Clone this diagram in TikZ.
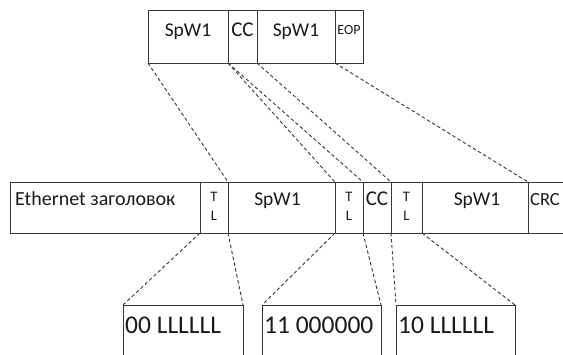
\documentclass[tikz,border=0pt]{standalone}
\usepackage{fontspec}
\setmainfont{Carlito}
\usetikzlibrary{positioning}
\usetikzlibrary{calc}
\definecolor{edge}{RGB}{55,55,55}
\definecolor{ink}{RGB}{25,25,25}

\begin{document}
\begin{tikzpicture}[x=1pt, y=-1pt, node distance=0pt,
field/.style={draw=edge, line width=0.9pt, inner sep=0pt, outer sep=0pt, minimum height=#1},
link/.style={edge, line width=0.9pt, dash pattern=on 3.5pt off 2.5pt},
txt/.style={ink, inner sep=0pt, anchor=base, font=\fontsize{#1}{#1}\selectfont},
txt/.default=19.5]
\useasboundingbox (0,0) rectangle (563,354);
\clip (0,0) rectangle (563,354);

% SpaceWire packet
\node [field=53pt, minimum width=80pt, anchor=north west] (t1) at (148,10) {};
\node [field=53pt, minimum width=29pt, right=of t1] (t2) {};
\node [field=53pt, minimum width=78pt, right=of t2] (t3) {};
\node [field=53pt, minimum width=28pt, right=of t3] (t4) {};

\node [txt] (l-t1) at ([yshift=-26pt]t1.north) {SpW1};
\node [txt=21] (l-t2) at ([yshift=-26pt]t2.north) {CC};
\node [txt] (l-t3) at ([yshift=-26pt]t3.north) {SpW1};
\node [txt=14] (l-t4) at ([yshift=-24pt]t4.north) {EOP};

% Ethernet frame
\node [field=51pt, minimum width=190pt, anchor=north west] (m1) at (10,182) {};
\node [field=51pt, minimum width=28pt, right=of m1] (m2) {};
\node [field=51pt, minimum width=107pt, right=of m2] (m3) {};
\node [field=51pt, minimum width=28pt, right=of m3] (m4) {};
\node [field=51pt, minimum width=28pt, right=of m4] (m5) {};
\node [field=51pt, minimum width=31pt, right=of m5] (m6) {};
\node [field=51pt, minimum width=106pt, right=of m6] (m7) {};
\node [field=51pt, minimum width=60pt, right=of m7] (m8) {};

\node [txt=20, anchor=base west] (l-m1) at ([xshift=5pt,yshift=-23pt]m1.north west) {Ethernet заголовок};
\node [txt] (l-m3) at ([xshift=-4pt,yshift=-23pt]m3.north) {SpW1};
\node [txt=21] (l-m5) at ([yshift=-23pt]m5.north) {CC};
\node [txt] (l-m7) at ([xshift=2pt,yshift=-23pt]m7.north) {SpW1};
\node [txt=18.5, anchor=base west] (l-m8) at ([xshift=2pt,yshift=-23pt]m8.north west) {CRC};

\foreach \f in {m2,m4,m6} {
  \node [txt=14.5] (\f-t) at ([yshift=-19pt]\f.north) {T};
  \node [txt=14.5] (\f-l) at ([yshift=-38pt]\f.north) {L};
}

% TL bytes
\node [field=65pt, minimum width=120pt, anchor=north west] (b1) at (123,305) {};
\node [field=65pt, minimum width=119pt, anchor=north west] (b2) at (262,305) {};
\node [field=65pt, minimum width=119pt, anchor=north west] (b3) at (396,305) {};

\node [txt=25.5, anchor=base west] (l-b1) at ([xshift=2pt,yshift=-28pt]b1.north west) {00 LLLLLL};
\node [txt=25.5, anchor=base west] (l-b2) at ([xshift=2pt,yshift=-28pt]b2.north west) {11 000000};
\node [txt=25.5, anchor=base west] (l-b3) at ([xshift=2pt,yshift=-28pt]b3.north west) {10 LLLLLL};

\draw [link] (t1.south west) -- (m3.north west);
\draw [link] (t1.south east) -- (m3.north east);
\draw [link] (t2.south west) -- (m5.north west);
\draw [link] (t2.south east) -- (m5.north east);
\draw [link] (t3.south east) -- (m7.north east);

\draw [link] (m2.south west) -- (b1.north west);
\draw [link] (m2.south east) -- (b1.north east);
\draw [link] (m4.south west) -- (b2.north west);
\draw [link] (m4.south east) -- (b2.north east);
\draw [link] (m6.south west) -- (b3.north west);
\draw [link] (m6.south east) -- (b3.north east);
\end{tikzpicture}
\end{document}
